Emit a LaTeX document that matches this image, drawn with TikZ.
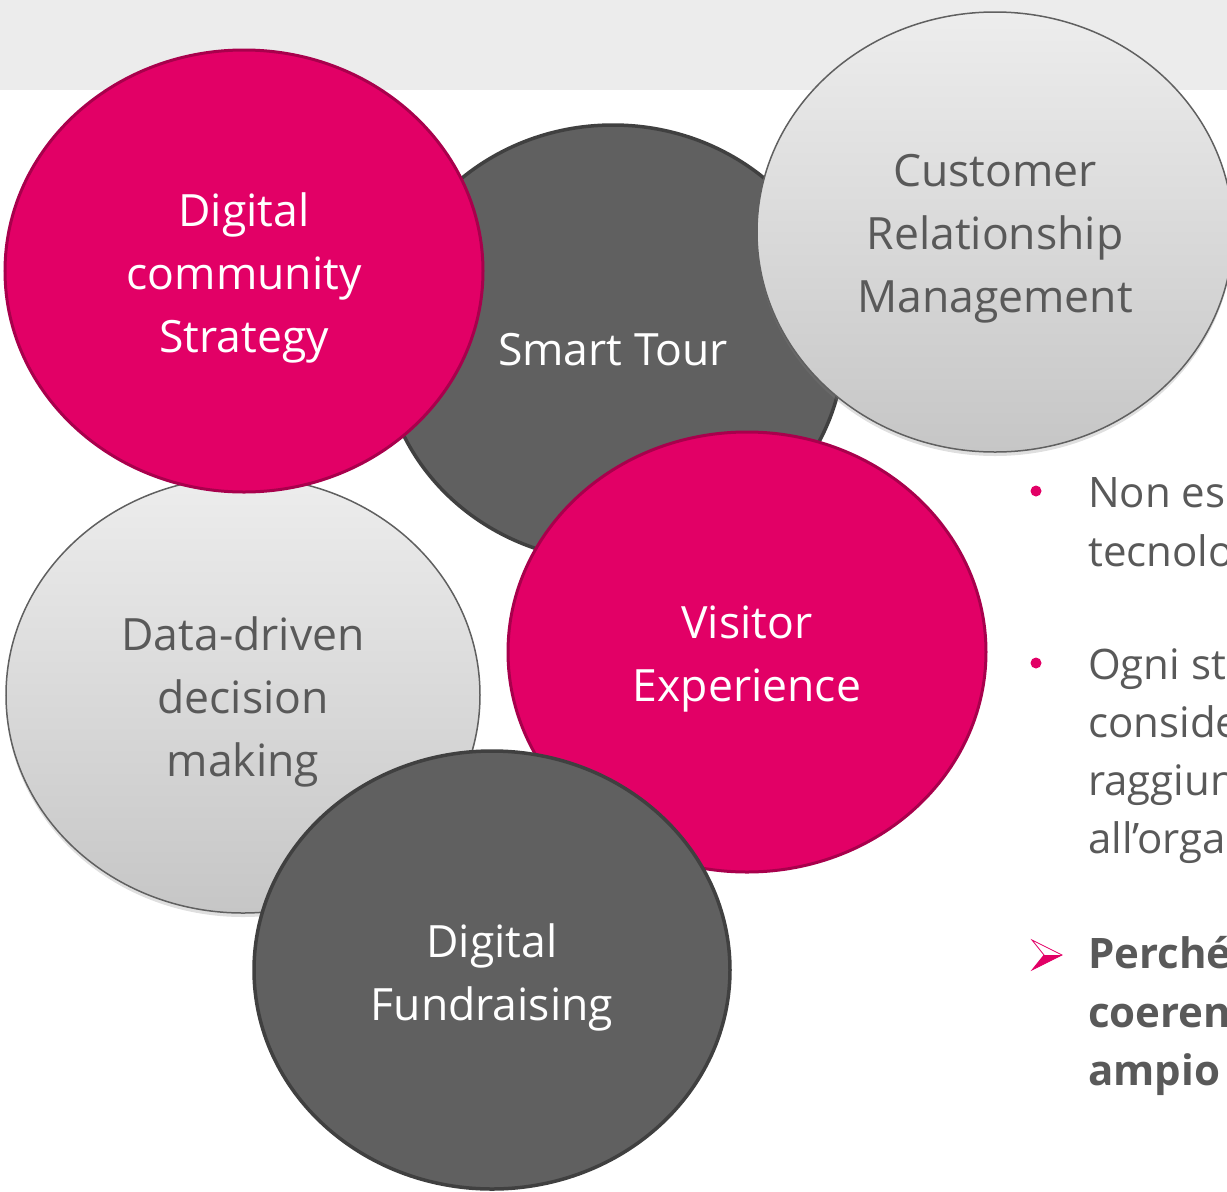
\documentclass[tikz,border=0pt]{standalone}
\usepackage{fontspec}
\setmainfont{Open Sans}
\usetikzlibrary{shapes.geometric,shadows}
\definecolor{band}{HTML}{ECECEC}
\definecolor{pinkf}{HTML}{E20066}
\definecolor{pinkd}{HTML}{A8004C}
\definecolor{darkf}{HTML}{606060}
\definecolor{darkd}{HTML}{404040}
\definecolor{lighttop}{HTML}{EDEDED}
\definecolor{lightbot}{HTML}{C6C6C6}
\definecolor{txtgray}{HTML}{595959}
\tikzset{
  bubble/.style={ellipse, minimum width=476pt, minimum height=440pt, inner sep=0pt},
  btext/.style={align=center, inner sep=0pt, font=\fontsize{44.5}{63}\selectfont, yshift=-7pt},
  pinkc/.style={bubble, fill=pinkf, draw=pinkd, line width=3pt, label={[btext, text=white]center:#1}},
  darkc/.style={bubble, fill=darkf, draw=darkd, line width=3.5pt, label={[btext, text=white]center:#1}},
  lightc/.style={bubble, top color=lighttop, bottom color=lightbot, draw=darkf, line width=1.5pt,
    drop shadow={shadow xshift=0pt, shadow yshift=-4pt, opacity=0.25}, label={[btext, text=txtgray]center:#1}},
  rtext/.style={anchor=base west, inner sep=0pt, text=txtgray, font=\fontsize{42}{58}\selectfont},
  rbold/.style={rtext, font=\fontsize{42}{58}\selectfont\bfseries},
}
\begin{document}
\begin{tikzpicture}[x=1pt,y=-1pt]
\useasboundingbox (0,0) rectangle (1227,1192);
\clip (0,0) rectangle (1227,1192);
\fill[band] (0,0) rectangle (1227,90);
\node[darkc={Smart Tour}, minimum width=462pt, minimum height=436pt] (tour) at (613,343) {};
\node[lightc={Customer\\Relationship\\Management}] (crm) at (995,232) {};
\node[lightc={Data-driven\\decision\\making}, minimum width=474pt, minimum height=436pt] (data) at (243,695) {};
\node[pinkc={Digital\\community\\Strategy}, minimum width=478pt, minimum height=442pt] (comm) at (244,271) {};
\node[pinkc={Visitor\\Experience}, minimum width=478pt, minimum height=440pt] (visit) at (747,652) {};
\node[darkc={Digital\\Fundraising}, minimum width=476pt, minimum height=438pt] (fund) at (492,970) {};
% right text
\fill[pinkf] (1036,491) circle (5.5) coordinate (b1);
\fill[pinkf] (1036,663) circle (5.5) coordinate (b2);
\node[rtext] (l1) at (1088,507) {Non es};
\node[rtext] (l2) at (1088,566) {tecnolo};
\node[rtext] (l3) at (1088,679) {Ogni st};
\node[rtext] (l4) at (1088,737) {conside};
\node[rtext] (l5) at (1088,795) {raggiun};
\node[rtext] (l6) at (1088,853) {all’orga};
\node[rbold] (l7) at (1088,968) {Perché};
\node[rbold] (l8) at (1088,1027) {coeren};
\node[rbold] (l9) at (1088,1085) {ampio};
% arrow bullet
\filldraw[fill=white, draw=pinkf, line width=0.8pt] (1032,940) -- (1062,955) -- (1032,970) -- (1044,955) -- cycle;
\fill[pinkf] (1044,955) -- (1062,955) -- (1032,970) -- cycle;
\end{tikzpicture}
\end{document}
